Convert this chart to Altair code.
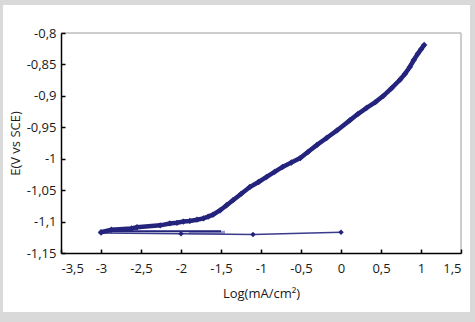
import altair as alt
import pandas as pd

# Main polarization curve
curve_x = [-3.0, -2.87, -2.62, -2.55, -2.26, -2.14, -2.05, -1.97, -1.89, -1.80,
           -1.72, -1.66, -1.60, -1.51, -1.43, -1.35, -1.25, -1.14, -1.03, -0.93,
           -0.83, -0.73, -0.62, -0.51, -0.41, -0.30, -0.18, -0.05, 0.11, 0.21,
           0.32, 0.43, 0.53, 0.63, 0.74, 0.80, 0.86, 0.91, 0.96, 1.00, 1.04]
curve_y = [-1.117, -1.113, -1.111, -1.109, -1.106, -1.103, -1.102, -1.100, -1.099, -1.097,
           -1.095, -1.092, -1.089, -1.082, -1.074, -1.066, -1.056, -1.045, -1.037, -1.029,
           -1.021, -1.013, -1.006, -0.999, -0.989, -0.978, -0.967, -0.955, -0.939, -0.929,
           -0.919, -0.910, -0.900, -0.888, -0.874, -0.865, -0.854, -0.843, -0.833, -0.826,
           -0.819]

# Flat line with markers
flat_x = [-3.0, -2.0, -1.1, 0.0]
flat_y = [-1.118, -1.1195, -1.1205, -1.117]

# Short dark base line
base_x = [-3.0, -1.5]
base_y = [-1.1155, -1.1155]

# Light band segment
light_x = [-1.9, -1.45]
light_y = [-1.1175, -1.1175]

x_ticks = [-3.5, -3, -2.5, -2, -1.5, -1, -0.5, 0, 0.5, 1, 1.5]
y_ticks = [-1.15, -1.1, -1.05, -1, -0.95, -0.9, -0.85, -0.8]

W, H = 400, 220
navy = "#24247d"
font = "Open Sans"

curve_df = pd.DataFrame({"x": curve_x, "y": curve_y})
flat_df = pd.DataFrame({"x": flat_x, "y": flat_y})
base_df = pd.DataFrame({"x": base_x, "y": base_y})
light_df = pd.DataFrame({"x": light_x, "y": light_y})
one = pd.DataFrame({"a": [0]})

xs = alt.Scale(domain=[-3.5, 1.5], nice=False, zero=False)
ys = alt.Scale(domain=[-1.15, -0.8], nice=False, zero=False)

label_expr = "replace(replace(format(datum.value, '~g'), '.', ','), '\u2212', '-')"

x_main = alt.Axis(orient="bottom", values=x_ticks, labelExpr=label_expr, ticks=False,
                  domainColor="black", domainWidth=1.5, labelPadding=9, labelFontSize=13,
                  labelColor="#1a1a1a", labelFont=font, title="Log(mA/cm²)",
                  titleFont=font, titleFontSize=13, titleFontWeight="normal",
                  titleColor="#1a1a1a", titlePadding=12, grid=False, zindex=2)
y_main = alt.Axis(orient="left", values=y_ticks, labelExpr=label_expr, ticks=False,
                  domainColor="black", domainWidth=1.5, labelPadding=5, labelFontSize=13,
                  labelColor="#1a1a1a", labelFont=font, title="E(V vs SCE)",
                  titleFont=font, titleFontSize=13, titleFontWeight="normal",
                  titleColor="#1a1a1a", titlePadding=4, grid=False, zindex=2)
x_ticks_axis = alt.Axis(orient="top", offset=-H, values=x_ticks, labels=False, domain=False,
                        tickSize=4, tickColor="black", tickWidth=1.5, title=None, grid=False, zindex=2)
y_ticks_axis = alt.Axis(orient="right", offset=-W, values=y_ticks, labels=False, domain=False,
                        tickSize=4, tickColor="black", tickWidth=1.5, title=None, grid=False, zindex=2)

panel = alt.Chart(one).mark_rect(color="white", clip=False).encode(
    x=alt.value(-58), x2=alt.value(409), y=alt.value(-28), y2=alt.value(279))
frame_top = alt.Chart(one).mark_rule(color="#bdbdbd", strokeWidth=1.5).encode(
    x=alt.value(0), x2=alt.value(W), y=alt.value(0))
frame_right = alt.Chart(one).mark_rule(color="#bdbdbd", strokeWidth=1.5).encode(
    x=alt.value(W), y=alt.value(0), y2=alt.value(H))

def enc(c, axx=None, axy=None):
    return c.encode(
        x=alt.X("x:Q", scale=xs, axis=axx),
        y=alt.Y("y:Q", scale=ys, axis=axy),
        order=alt.Order("x:Q"),
    )

light = enc(alt.Chart(light_df).mark_line(color="#9a9ac8", strokeWidth=3.5))
base = enc(alt.Chart(base_df).mark_line(color=navy, strokeWidth=2))
flat_line = enc(alt.Chart(flat_df).mark_line(color="#3b3b8c", strokeWidth=1.5))
flat_pts = alt.Chart(flat_df).mark_point(shape="diamond", filled=True, color=navy, size=30, opacity=1).encode(
    x=alt.X("x:Q", scale=xs, axis=None), y=alt.Y("y:Q", scale=ys, axis=None))
curve_line = enc(alt.Chart(curve_df).mark_line(color=navy, strokeWidth=4.5), x_main, y_main)
curve_pts = alt.Chart(curve_df).mark_point(shape="diamond", filled=True, color=navy, size=40, opacity=1).encode(
    x=alt.X("x:Q", scale=xs, axis=None), y=alt.Y("y:Q", scale=ys, axis=None))
tick_layer = alt.Chart(curve_df).mark_point(opacity=0).encode(
    x=alt.X("x:Q", scale=xs, axis=x_ticks_axis),
    y=alt.Y("y:Q", scale=ys, axis=y_ticks_axis))

chart = alt.layer(
    panel, frame_top, frame_right, light, base, flat_line, flat_pts, curve_line, curve_pts, tick_layer
).resolve_axis(x="independent", y="independent").properties(
    width=W, height=H,
    autosize=alt.AutoSizeParams(type="none"),
    padding={"left": 61, "top": 33, "right": 14, "bottom": 69},
    background="#d9d9d9",
).configure_view(strokeWidth=0)

chart.save("out.html", embed_options={"renderer": "svg", "actions": False})
